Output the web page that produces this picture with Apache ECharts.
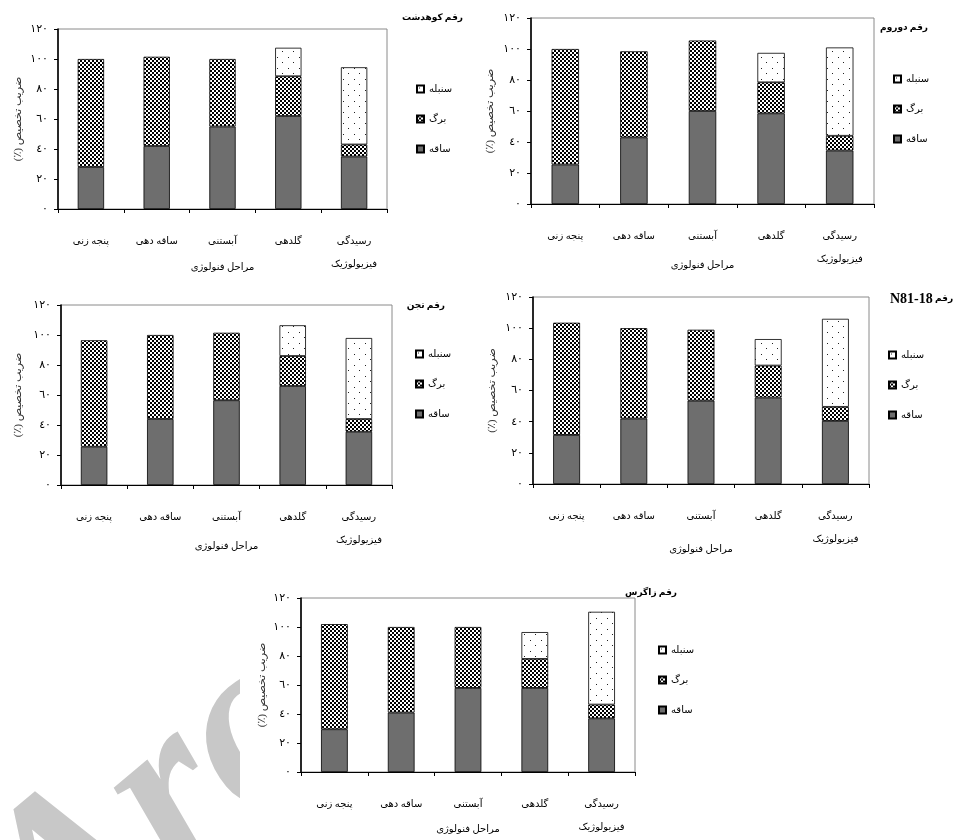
<!DOCTYPE html>
<html>
<head>
<meta charset="utf-8">
<script src="https://cdn.jsdelivr.net/npm/echarts@6/dist/echarts.min.js"></script>
<style>
  html, body { margin: 0; padding: 0; background: #fff; }
  #chart { width: 953px; height: 840px; }
</style>
</head>
<body>
<div id="chart"></div>
<script>
// Phenological stages (x categories) and y tick labels in Arabic-Indic digits
const stages = ['پنجه زنی', 'ساقه دهی', 'آبستنی', 'گلدهی', 'رسیدگی\nفیزیولوژیک'];
const yTickLabels = ['٠', '٢٠', '٤٠', '٦٠', '٨٠', '١٠٠', '١٢٠'];
const legendOrder = ['سنبله', 'برگ', 'ساقه'];
const xTitle = 'مراحل فنولوژی';
const yTitle = '\u200Fضریب تخصیص (٪)\u200F';

// Allocation coefficient (%) per organ: stem, leaf, spike
const kohdashtStem  = [28, 42, 55, 62, 35];
const kohdashtLeaf  = [72, 59.5, 45, 26.5, 8];
const kohdashtSpike = [null, null, null, 19, 51.5];

const dorumStem  = [25.5, 43, 60, 58.5, 34.5];
const dorumLeaf  = [74.5, 55.5, 45.5, 20, 9.5];
const dorumSpike = [null, null, null, 19, 57];

const tajanStem  = [25.5, 44, 56.5, 66, 35.5];
const tajanLeaf  = [71, 56, 45, 20, 8.5];
const tajanSpike = [null, null, null, 20.5, 54];

const n8118Stem  = [31.5, 42, 53.5, 55.5, 40.5];
const n8118Leaf  = [72, 58, 45.5, 20.5, 9];
const n8118Spike = [null, null, null, 17, 56.5];

const zagrosStem  = [29.5, 41, 58, 58, 37];
const zagrosLeaf  = [72.5, 59, 42, 20, 9.5];
const zagrosSpike = [null, null, null, 18.5, 64];

const panels = [
  { title: 'رقم کوهدشت', stem: kohdashtStem, leaf: kohdashtLeaf, spike: kohdashtSpike },
  { title: 'رقم دوروم',  stem: dorumStem,    leaf: dorumLeaf,    spike: dorumSpike },
  { title: 'رقم تجن',    stem: tajanStem,    leaf: tajanLeaf,    spike: tajanSpike },
  { title: '{lat|N81-18} {fa|رقم}', stem: n8118Stem, leaf: n8118Leaf, spike: n8118Spike },
  { title: 'رقم زاگرس',  stem: zagrosStem,   leaf: zagrosLeaf,   spike: zagrosSpike }
];

// Placement of each small chart on the page
const layout = [
  { grid: [58, 29, 329, 180],  title: { right: 490, top: 13 },  legend: [416, 83],  xGap: 53, yGap: 34 },
  { grid: [531, 18, 343, 186], title: { right: 25, top: 23 },   legend: [893, 73],  xGap: 56, yGap: 35 },
  { grid: [61, 305, 331, 180], title: { right: 508, top: 301 }, legend: [415, 348], xGap: 56, yGap: 37 },
  { grid: [533, 297, 336, 187], title: { left: 890, top: 292 }, legend: [888, 349], xGap: 60, yGap: 35 },
  { grid: [301, 598, 334, 174], title: { right: 276, top: 588 }, legend: [658, 644], xGap: 52, yGap: 33 }
];

const FONT = '"Times New Roman", "Liberation Serif", "DejaVu Sans", serif';

function makeTile(w, h, draw) {
  const c = document.createElement('canvas');
  c.width = w; c.height = h;
  const g = c.getContext('2d');
  g.fillStyle = '#fff';
  g.fillRect(0, 0, w, h);
  draw(g);
  return c;
}
const checkerTile = makeTile(4, 4, g => {
  g.fillStyle = '#000';
  g.fillRect(0, 0, 2, 2);
  g.fillRect(2, 2, 2, 2);
});
const dotTile = makeTile(11, 11, g => {
  g.fillStyle = '#222';
  g.fillRect(2, 2, 1, 1);
  g.fillRect(7, 7, 1, 1);
});

const organStyle = {
  'ساقه':  { color: '#6e6e6e' },
  'برگ':   { color: { image: checkerTile, repeat: 'repeat' } },
  'سنبله': { color: { image: dotTile, repeat: 'repeat' } }
};

const option = {
  backgroundColor: '#fff',
  animation: false,
  textStyle: { fontFamily: FONT, color: '#000' },
  title: [], legend: [], grid: [], xAxis: [], yAxis: [], series: [],
  graphic: [
    {
      type: 'text', z: -2, x: 92, y: 1026, rotation: 0.70,
      style: { text: 'Arc', font: 'italic bold 240px "Liberation Serif", serif', fill: '#c8c8c8', verticalAlign: 'bottom' }
    },
    { type: 'rect', z: -1, shape: { x: 240, y: 540, width: 160, height: 290 }, style: { fill: '#fff' } }
  ]
};

panels.forEach((p, i) => {
  const L = layout[i];
  const [gl, gt, gw, gh] = L.grid;
  option.grid.push({
    left: gl, top: gt, width: gw, height: gh,
    show: true, borderColor: '#8a8a8a', borderWidth: 1, backgroundColor: 'transparent'
  });
  option.title.push(Object.assign({
    text: p.title,
    padding: 0,
    textStyle: {
      fontSize: 9, fontWeight: 'bold', color: '#000', fontFamily: FONT,
      rich: {
        lat: { fontSize: 14, fontWeight: 'bold', fontFamily: '"Liberation Serif", serif', color: '#000' },
        fa: { fontSize: 9, fontWeight: 'bold', color: '#000', fontFamily: FONT }
      }
    }
  }, L.title));
  option.legend.push({
    orient: 'vertical', left: L.legend[0], top: L.legend[1], padding: 0,
    data: legendOrder, icon: 'rect', itemWidth: 7, itemHeight: 7, itemGap: 18,
    selectedMode: false,
    textStyle: { fontSize: 10, lineHeight: 12, color: '#000', fontFamily: FONT }
  });
  option.xAxis.push({
    type: 'category', gridIndex: i, data: stages,
    axisLine: { lineStyle: { color: '#000', width: 1 } },
    axisTick: { show: true, length: 4, lineStyle: { color: '#000' } },
    axisLabel: { color: '#000', fontSize: 10, lineHeight: 23, margin: 21, interval: 0 },
    name: xTitle, nameLocation: 'middle', nameGap: L.xGap, nameMoveOverlap: false,
    nameTextStyle: { color: '#000', fontSize: 10 }
  });
  option.yAxis.push({
    type: 'value', gridIndex: i, min: 0, max: 120, interval: 20,
    axisLine: { show: true, lineStyle: { color: '#000', width: 1.6 } },
    axisTick: { show: true, length: 4, lineStyle: { color: '#000' } },
    splitLine: { show: false },
    axisLabel: { color: '#000', fontSize: 11, margin: 10, formatter: v => yTickLabels[v / 20] },
    name: yTitle, nameLocation: 'middle', nameGap: L.yGap, nameRotate: 90, nameMoveOverlap: false,
    nameTextStyle: { color: '#333', fontSize: 11 }
  });
  [['ساقه', p.stem], ['برگ', p.leaf], ['سنبله', p.spike]].forEach(([name, values]) => {
    option.series.push({
      name, type: 'bar', stack: 'panel' + i, xAxisIndex: i, yAxisIndex: i,
      barWidth: '40%', data: values.map(v => (v === null ? '-' : v)),
      itemStyle: Object.assign({ borderColor: '#000', borderWidth: 0.8 }, organStyle[name]),
      emphasis: { disabled: true }
    });
  });
});

const chart = echarts.init(document.getElementById('chart'), null, { renderer: 'canvas' });
chart.setOption(option);
</script>
</body>
</html>
